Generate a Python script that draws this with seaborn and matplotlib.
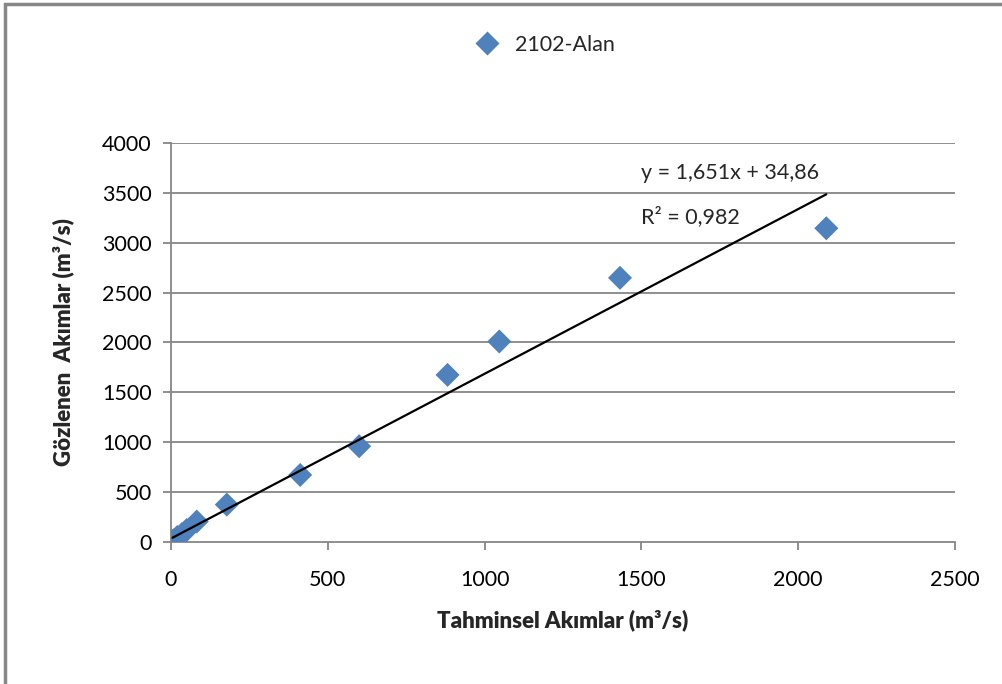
import numpy as np
import pandas as pd
import matplotlib
matplotlib.use("Agg")
import matplotlib.pyplot as plt
import seaborn as sns
from matplotlib.patches import Rectangle

# Predicted vs observed flows for station 2102
tahminsel = [5, 10, 20, 35, 50, 82, 178, 412, 600, 882, 1047, 1432, 2090]
gozlenen = [10, 20, 50, 80, 120, 205, 375, 672, 960, 1675, 2010, 2648, 3145]
series_name = "2102-Alan"
slope = 1.651
intercept = 34.86
r2 = 0.982
x_ticks = [0, 500, 1000, 1500, 2000, 2500]
y_ticks = [0, 500, 1000, 1500, 2000, 2500, 3000, 3500, 4000]

df = pd.DataFrame({"x": tahminsel, "y": gozlenen, "seri": series_name})

sns.set_theme(style="white")
plt.rcParams["font.family"] = ["Lato", "DejaVu Sans"]

fig = plt.figure(figsize=(10.03, 6.84), dpi=100)
ax = fig.add_axes([0.1705, 0.2076, 0.7815, 0.5834])

grid_c = "#868686"
for v in y_ticks[1:]:
    ax.axhline(v, color=grid_c, lw=1.3, zorder=0)

sns.scatterplot(data=df, x="x", y="y", hue="seri", palette=["#4F81BD"],
                marker="D", s=150, edgecolor="none", ax=ax, zorder=3)

# linear trendline over the data range
xs = np.array([min(tahminsel), max(tahminsel)])
ax.plot(xs, slope * xs + intercept, color="black", lw=1.6, zorder=4)

ax.set_xlim(0, 2500)
ax.set_ylim(0, 4000)
ax.set_xticks(x_ticks)
ax.set_yticks(y_ticks)
ax.tick_params(axis="both", labelsize=15.5, colors="black", length=6, width=1.3,
               direction="out", left=True, bottom=True)
ax.tick_params(axis="x", pad=14, color=grid_c)
ax.tick_params(axis="y", pad=8, color=grid_c)
for s in ["top", "right"]:
    ax.spines[s].set_visible(False)
for s in ["left", "bottom"]:
    ax.spines[s].set_color(grid_c)
    ax.spines[s].set_linewidth(1.3)

ax.set_xlabel("Tahminsel Akımlar (m³/s)", fontsize=16, fontweight="heavy", labelpad=14)
ax.set_ylabel("Gözlenen  Akımlar (m³/s)", fontsize=16, fontweight="heavy", labelpad=20)

ax.text(1500, 3700, f"y = {slope:.3f}x + {intercept:.2f}".replace(".", ","),
        fontsize=15.5, ha="left", va="center")
ax.text(1500, 3260, f"R² = {r2:.3f}".replace(".", ","), fontsize=15.5, ha="left", va="center")

ax.legend(loc="center", bbox_to_anchor=(0.471, 1.2456), frameon=False, fontsize=15.5,
          handletextpad=0.3, markerscale=1.0)

# chart frame
fig.patches.append(Rectangle((0.005, -0.1), 1.2, 1.094, transform=fig.transFigure,
                             fill=False, edgecolor="#878787", lw=2.5))

fig.savefig("out.png", dpi=100)
